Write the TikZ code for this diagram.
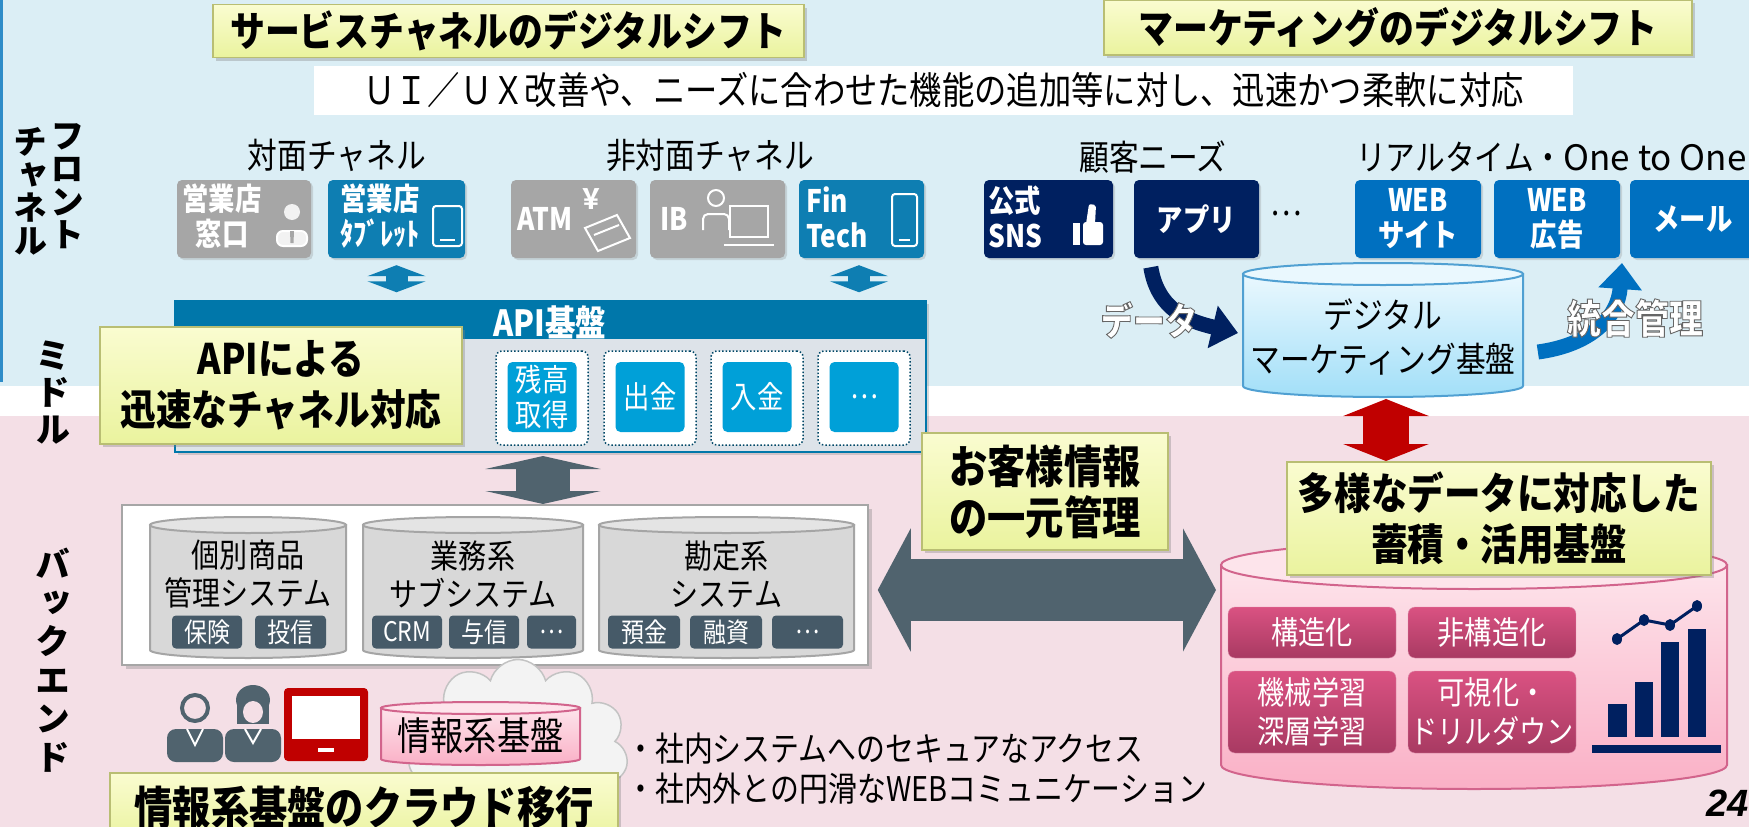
\documentclass[tikz,border=0pt]{standalone}
\usepackage{fontspec}
\setmainfont{Noto Sans CJK JP}[FakeStretch=0.85]
\newfontfamily\tatefont{Noto Sans CJK JP}[RawFeature=+vert]
\newfontfamily\widefont{Noto Sans CJK JP}
\newfontfamily\numfont{Liberation Sans}
\usetikzlibrary{arrows.meta,shadows,shapes.symbols}

\definecolor{bandBlue}{RGB}{219,238,245}
\definecolor{bandPink}{RGB}{244,223,230}
\definecolor{sideBlue}{RGB}{46,140,200}
\definecolor{titleTop}{RGB}{250,252,208}
\definecolor{titleBot}{RGB}{234,243,158}
\definecolor{titleLine}{RGB}{185,190,115}
\definecolor{chanGray}{RGB}{166,166,166}
\definecolor{chanBlue}{RGB}{14,126,178}
\definecolor{apiBlue}{RGB}{0,119,170}
\definecolor{apiBody}{RGB}{221,227,233}
\definecolor{apiCyan}{RGB}{0,160,216}
\definecolor{slate}{RGB}{80,99,110}
\definecolor{subSlate}{RGB}{70,90,104}
\definecolor{cylGray}{RGB}{216,216,216}
\definecolor{cylTop}{RGB}{228,228,228}
\definecolor{cylLine}{RGB}{165,165,165}
\definecolor{navy}{RGB}{0,32,96}
\definecolor{webBlue}{RGB}{0,112,192}
\definecolor{dmTop}{RGB}{234,248,254}
\definecolor{dmBot}{RGB}{162,223,248}
\definecolor{dmLine}{RGB}{80,160,210}
\definecolor{darkRed}{RGB}{192,0,0}
\definecolor{pinkTop}{RGB}{253,228,235}
\definecolor{pinkBot}{RGB}{250,176,198}
\definecolor{pinkLine}{RGB}{210,100,140}
\definecolor{pinkBoxTop}{RGB}{218,82,130}
\definecolor{pinkBoxBot}{RGB}{168,58,98}
\definecolor{cloudFill}{RGB}{243,243,243}
\definecolor{cloudLine}{RGB}{195,195,195}

% drum: centre x, half width, top y, bottom y, rim radius, body style, rim style
\newcommand{\drum}[7]{%
  \path[#6] (#1-#2,#3) -- (#1-#2,#4)
    arc[start angle=180, end angle=360, x radius=#2pt, y radius=#5pt]
    -- (#1+#2,#3) -- cycle;
  \path[#7] (#1,#3) ellipse[x radius=#2pt, y radius=#5pt];
}
% white letters with a grey rim
\newcommand{\rimtext}[1]{{\color{white}\special{pdf:literal direct 0.4 G 0.9 w 2 Tr}#1\special{pdf:literal direct 0 Tr}}}

\tikzset{
  titlebox/.style={draw=titleLine, line width=1.5pt, top color=titleTop, bottom color=titleBot,
    drop shadow={shadow xshift=3pt, shadow yshift=-3pt, opacity=.35},
    inner sep=0pt, align=center, font=\bfseries\fontsize{41}{48}\selectfont},
  headtext/.style={inner sep=0pt, font=\fontsize{35}{40}\selectfont},
  sidetext/.style={inner sep=0pt, align=center, font=\tatefont\bfseries\fontsize{34}{33}\selectfont},
  chanbox/.style={rounded corners=5pt, minimum height=78pt, inner sep=0pt,
    drop shadow={shadow xshift=2pt, shadow yshift=-2pt, opacity=.25}},
  boxtext/.style={text=white, inner sep=0pt, align=center, font=\bfseries\fontsize{31}{35}\selectfont},
  iconline/.style={white, line width=2pt},
  smallarrow/.style={chanBlue, line width=22pt, shorten <=7pt, shorten >=8pt,
    {Triangle[width=58pt,length=11pt]}-{Triangle[width=58pt,length=11pt]}},
  apislot/.style={draw=apiBlue!60!black, dotted, line width=1.5pt, fill=white, rounded corners=6pt,
    minimum width=92pt, minimum height=94pt},
  apifunc/.style={fill=apiCyan, rounded corners=5pt, minimum width=69pt, minimum height=70pt,
    inner sep=0pt, text=white, align=center, font=\fontsize{31}{35}\selectfont},
  slatearrow/.style={slate, line width=54pt,
    {Triangle[width=115pt,length=13pt]}-{Triangle[width=115pt,length=13pt]}},
  widearrow/.style={slate, line width=62pt,
    {Triangle[width=122pt,length=33pt]}-{Triangle[width=122pt,length=33pt]}},
  redarrow/.style={darkRed, line width=46pt,
    {Triangle[width=85pt,length=17pt]}-{Triangle[width=85pt,length=17pt]}},
  cylbody/.style={fill=cylGray, draw=cylLine, line width=2pt},
  cyltop/.style={fill=cylTop, draw=cylLine, line width=2pt},
  cyltext/.style={inner sep=0pt, align=center, font=\fontsize{33}{38}\selectfont},
  subsys/.style={fill=subSlate, rounded corners=4pt, minimum height=33pt, inner sep=0pt,
    text=white, font=\fontsize{27}{30}\selectfont},
  dmbody/.style={top color=dmTop, bottom color=dmBot, draw=dmLine, line width=2pt},
  dmtop/.style={fill=dmTop, draw=dmLine, line width=2pt},
  pinkbody/.style={top color=pinkTop, bottom color=pinkBot, draw=pinkLine, line width=2pt},
  pinktop/.style={fill=pinkTop, draw=pinkLine, line width=2pt},
  pinkfunc/.style={rounded corners=7pt, top color=pinkBoxTop, bottom color=pinkBoxBot,
    draw=pinkLine!70, minimum width=168pt, inner sep=0pt, text=white, align=center,
    font=\fontsize{32}{39}\selectfont},
  flowtext/.style={inner sep=0pt, font=\bfseries\fontsize{38}{40}\selectfont},
  bullettext/.style={anchor=west, inner sep=0pt, font=\fontsize{34}{36}\selectfont},
}

\begin{document}
\begin{tikzpicture}[x=1pt, y=-1pt]
\useasboundingbox (0,0) rectangle (1749,827);

% bands
\fill[bandBlue] (0,0) rectangle (1749,386);
\fill[bandPink] (0,416) rectangle (1749,827);
\fill[sideBlue] (0,0) rectangle (3,382);

% headings
\node[titlebox, minimum width=591pt, minimum height=53pt] (svc) at (508.5,31) {サービスチャネルのデジタルシフト};
\node[titlebox, minimum width=588pt, minimum height=55pt] (mkt) at (1398,27.5) {マーケティングのデジタルシフト};
\node[fill=white, minimum width=1259pt, minimum height=49pt, inner sep=0pt,
  font=\fontsize{38}{40}\selectfont] (uiux) at (943.5,90) {ＵＩ／ＵＸ改善や、ニーズに合わせた機能の追加等に対し、迅速かつ柔軟に対応};

% layer names
\node[sidetext] (front) at (67,186) {フ\\ロ\\ン\\ト};
\node[sidetext] (chan) at (30,191) {チ\\ャ\\ネ\\ル};
\node[sidetext, font=\tatefont\bfseries\fontsize{35}{37}\selectfont] (middle) at (53,393) {ミ\\ド\\ル};
\node[sidetext, font=\tatefont\bfseries\fontsize{35}{38.6}\selectfont] (backend) at (53,660) {バ\\ッ\\ク\\エ\\ン\\ド};

% channels
\node[headtext] (taimen) at (337,155) {対面チャネル};
\node[headtext] (hitaimen) at (710,155) {非対面チャネル};
\node[headtext] (needs) at (1153,157) {顧客ニーズ};
\node[headtext, anchor=west] (oneone) at (1356,157) {リアルタイム・{\widefont One to One}};

\node[chanbox, fill=chanGray, minimum width=134pt] (mado) at (244,219) {};
\node[chanbox, fill=chanBlue, minimum width=137pt] (tablet) at (396.5,219) {};
\node[chanbox, fill=chanGray, minimum width=125pt] (atm) at (573.5,219) {};
\node[chanbox, fill=chanGray, minimum width=135pt] (ib) at (717.5,219) {};
\node[chanbox, fill=chanBlue, minimum width=125pt] (fintech) at (861.5,219) {};

\node[boxtext] (madoT) at (222,216) {営業店\\窓口};
\node[boxtext] (tabletT) at (380,216) {営業店\\ﾀﾌﾞﾚｯﾄ};
\node[boxtext] (atmT) at (545,219) {ATM};
\node[boxtext] (ibT) at (674,219) {IB};
\node[boxtext, anchor=west, align=left] (fintechT) at (806,217) {Fin\\Tech};

% icons
\fill[white!85!chanGray] (292,212) circle[radius=8pt];
\draw[iconline, fill=white!85!chanGray, rounded corners=6pt] (277,246) -- (277,231) -- (307,231) -- (307,246) -- cycle;
\fill[chanGray] (290,231) -- (294,231) -- (293.5,243) -- (290.5,243) -- cycle;
\draw[iconline, rounded corners=3pt] (433,206) rectangle (462,246);
\draw[iconline] (440,240) -- (455,240);
\node[boxtext, font=\bfseries\fontsize{28}{28}\selectfont] (yen) at (591,199) {￥};
\draw[iconline, fill=chanGray] (585,228) -- (617,215) -- (630,238) -- (598,251) -- cycle;
\draw[iconline] (594,235) -- (619,225);
\draw[iconline] (716,198) circle[radius=8pt];
\draw[iconline, rounded corners=5pt] (703,230) -- (703,214) -- (729,214) -- (729,230);
\draw[iconline, fill=chanGray] (730,206) rectangle (768,237);
\draw[iconline] (724,245) -- (774,245);
\draw[iconline, rounded corners=3pt] (892,194) rectangle (917,246);
\draw[iconline] (899,240) -- (910,240);

\node[chanbox, fill=navy, minimum width=129pt] (sns) at (1048.5,219) {};
\node[boxtext, anchor=west, align=left] (snsT) at (988,217) {公式\\SNS};
\fill[white] (1073,223) rectangle (1080,245);
\fill[white, rounded corners=3pt] (1083,222) rectangle (1103,245);
\fill[white, rounded corners=2pt] (1086,224) -- (1089,204) -- (1096,205) -- (1095,224) -- cycle;
\node[chanbox, boxtext, fill=navy, minimum width=125pt] (app) at (1196.5,219) {アプリ};
\node[headtext] (more) at (1286,214) {…};
\node[chanbox, boxtext, fill=webBlue, minimum width=126pt] (website) at (1418,219) {WEB\\サイト};
\node[chanbox, boxtext, fill=webBlue, minimum width=126pt] (webad) at (1557,219) {WEB\\広告};
\node[chanbox, boxtext, fill=webBlue, minimum width=126pt] (mail) at (1693,219) {メール};

% API layer
\node[draw=apiBlue, line width=1.5pt, fill=apiBody, minimum width=751pt, minimum height=151pt,
  drop shadow={shadow xshift=3pt, shadow yshift=-3pt, opacity=.3}] (api) at (550.5,376.5) {};
\fill[apiBlue] (api.north west) rectangle ([yshift=-39pt]api.north east);
\node[inner sep=0pt, text=white, font=\bfseries\fontsize{36}{40}\selectfont] (apiT) at (550,322) {API基盤};

\draw[smallarrow] (tablet.south) -- (tablet.south |- api.north);
\draw[smallarrow] (fintech.south -| 859,0) -- (api.north -| 859,0);

\foreach \cx/\lbl [count=\i] in {542/{残高\\取得}, 650/出金, 757/入金, 864/…} {
  \node[apislot] (slot\i) at (\cx,398) {};
  \node[apifunc] (func\i) at (\cx,397) {\lbl};
}

\node[titlebox, minimum width=362pt, minimum height=117pt, font=\bfseries\fontsize{42}{51}\selectfont]
  (apiquick) at (281,385.5) {APIによる\\迅速なチャネル対応};

% back end systems
\coordinate (apiLow) at (543,456);
\coordinate (backTop) at (543,504);
\draw[slatearrow] (apiLow) -- (backTop);

\node[draw=gray!70, line width=1.5pt, fill=white, minimum width=746pt, minimum height=160pt,
  drop shadow={shadow xshift=4pt, shadow yshift=-4pt, opacity=.35}] (back) at (495,585) {};
\drum{248}{98}{525}{650}{8}{cylbody}{cyltop}
\drum{473}{110}{525}{650}{8}{cylbody}{cyltop}
\drum{726.5}{127.5}{525}{650}{8}{cylbody}{cyltop}
\node[cyltext] (kobetsu) at (248,574) {個別商品\\管理システム};
\node[cyltext] (gyomu) at (473,574) {業務系\\サブシステム};
\node[cyltext] (kanjo) at (726.5,574) {勘定系\\システム};
\node[subsys, minimum width=70pt] (hoken) at (207,632) {保険};
\node[subsys, minimum width=71pt] (toshin) at (290.5,632) {投信};
\node[subsys, minimum width=70pt] (crm) at (407,632) {CRM};
\node[subsys, minimum width=70pt] (yoshin) at (484,632) {与信};
\node[subsys, minimum width=49pt] (etc1) at (551.5,632) {…};
\node[subsys, minimum width=72pt] (yokin) at (644,632) {預金};
\node[subsys, minimum width=72pt] (yushi) at (726,632) {融資};
\node[subsys, minimum width=71pt] (etc2) at (807.5,632) {…};

% marketing platform
\drum{1383}{140}{274}{386}{11}{dmbody}{dmtop}
\node[cyltext, font=\fontsize{35}{44}\selectfont] (dmkt) at (1383,337) {デジタル\\マーケティング基盤};

\coordinate (dataIn) at (1238,333);
\draw[navy, line width=15pt, -{Triangle[width=42pt,length=26pt]}]
  ([xshift=17pt,yshift=-9pt]app.south west) .. controls (1158,312) and (1192,322) .. (dataIn);
\node[flowtext] (dataT) at (1149,320) {\rimtext{データ}};

\coordinate (intTip) at (1622,263);
\draw[webBlue, line width=15pt, -{Triangle[width=42pt,length=26pt]}]
  ([xshift=22pt,yshift=-15pt]dmkt.east) .. controls (1590,345) and (1618,318) .. (intTip);
\node[flowtext, font=\bfseries\fontsize{40}{40}\selectfont] (intT) at (1635,318) {\rimtext{統合管理}};

% data platform
\coordinate (redTop) at (1386,399);
\coordinate (redBot) at (1386,461);
\draw[redarrow] (redTop) -- (redBot);

\drum{1474}{253}{565}{765}{24}{pinkbody}{pinktop}
\node[titlebox, minimum width=424pt, minimum height=113pt, font=\bfseries\fontsize{43}{51}\selectfont]
  (tayo) at (1499,518.5) {多様なデータに対応した\\蓄積・活用基盤};
\node[pinkfunc, minimum height=51pt] (kozo) at (1312,632.5) {構造化};
\node[pinkfunc, minimum height=51pt] (hikozo) at (1492,632.5) {非構造化};
\node[pinkfunc, minimum height=82pt] (ml) at (1312,712) {機械学習\\深層学習};
\node[pinkfunc, minimum height=82pt] (viz) at (1492,712) {可視化・\\ドリルダウン};

% chart
\fill[navy] (1592,745) rectangle (1721,753);
\fill[navy] (1608,704) rectangle (1627,737);
\fill[navy] (1635,682) rectangle (1653,737);
\fill[navy] (1661,642) rectangle (1679,737);
\fill[navy] (1688,629) rectangle (1706,737);
\draw[navy, line width=3pt] (1617,639) -- (1644,620) -- (1670,625) -- (1697,606);
\foreach \px/\py in {1617/639, 1644/620, 1670/625, 1697/606}
  \fill[navy] (\px,\py) ellipse[x radius=5pt, y radius=6pt];

% customer information
\draw[widearrow] ([xshift=9pt,yshift=-5pt]back.east) -- (1216,590);
\node[titlebox, minimum width=246pt, minimum height=117pt, font=\bfseries\fontsize{45}{51}\selectfont]
  (okyaku) at (1045,491.5) {お客様情報\\の一元管理};

% information systems in the cloud
\node[cloud, cloud puffs=11, aspect=1.2, draw=cloudLine, line width=1.5pt, fill=cloudFill,
  minimum width=220pt, minimum height=185pt] (cloud) at (518,752) {};
\drum{480.5}{99.5}{708}{759}{6}{pinkbody}{pinktop}
\node[cyltext, font=\fontsize{39}{42}\selectfont] (jouhou) at (480.5,736) {情報系基盤};

% staff
\draw[slate, line width=4pt, fill=bandPink] (195,708) circle[radius=13pt];
\fill[slate, rounded corners=9pt] (167,762) -- (167,729) -- (223,729) -- (223,762) -- cycle;
\draw[white, line width=2pt] (187,729) -- (195,745) -- (203,729);
\fill[slate] (253,700) ellipse[x radius=17pt, y radius=15pt];
\fill[slate] (237,703) rectangle (269,724);
\fill[bandPink] (253,712) ellipse[x radius=10pt, y radius=11pt];
\fill[slate, rounded corners=9pt] (225,762) -- (225,729) -- (281,729) -- (281,762) -- cycle;
\draw[white, line width=2pt] (245,729) -- (253,743) -- (261,729);

\fill[darkRed, rounded corners=4pt] (284,688) rectangle (368,761);
\fill[white] (292,696) rectangle (360,739);
\fill[white] (318,748) rectangle (334,752);

\node[bullettext] (bul1) at (626,749) {・社内システムへのセキュアなアクセス};
\node[bullettext] (bul2) at (626,789) {・社内外との円滑なWEBコミュニケーション};

\node[titlebox, minimum width=508pt, minimum height=70pt, font=\bfseries\fontsize{45}{50}\selectfont]
  (cloudmove) at (364,808) {情報系基盤のクラウド移行};

\node[anchor=west, inner sep=0pt, font=\numfont\bfseries\itshape\fontsize{38}{38}\selectfont]
  (pageno) at (1706,803) {24};
\end{tikzpicture}
\end{document}
